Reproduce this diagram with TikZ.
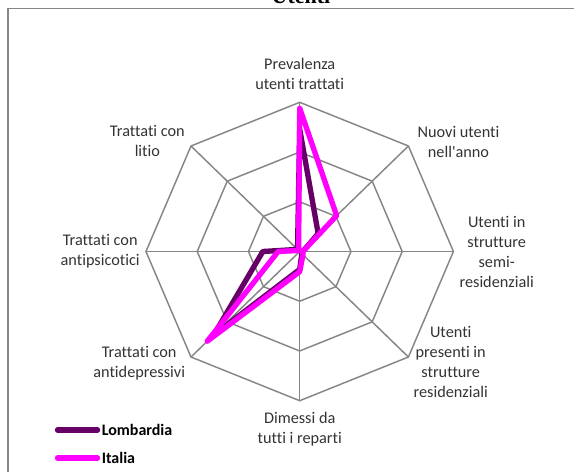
\documentclass[tikz,border=0pt]{standalone}
\usepackage{fontspec}
\setmainfont{Carlito}[Ligatures=NoCommon]
\newfontfamily\titlefont{Liberation Serif}
\usetikzlibrary{positioning,calc}
\definecolor{gridgray}{RGB}{134,134,134}
\definecolor{lombcolor}{RGB}{102,0,102}
\definecolor{italcolor}{RGB}{255,0,255}
\tikzset{
    grid_line/.style={
        draw=gridgray,
        line width=1.1pt
    },
    frame/.style={
        draw=gridgray,
        line width=1.2pt
    },
    series/.style={
        line width=4pt,
        line join=round,
        line cap=round
    },
    lombardia/.style={
        series,
        draw=lombcolor
    },
    italia/.style={
        series,
        draw=italcolor
    },
    axis_label/.style={
        inner sep=0pt,
        align=center,
        text=black!80,
        font=\fontsize{12.2pt}{15pt}\selectfont
    },
    key_text/.style={
        inner sep=0pt,
        font=\fontsize{12pt}{15pt}\selectfont\bfseries
    },
    chart_title/.style={
        inner sep=0pt,
        font=\titlefont\fontsize{16.5pt}{20pt}\selectfont\bfseries
    },
}

\begin{document}
\begin{tikzpicture}[x=0.75pt, y=-0.75pt, align=center]
    \useasboundingbox (0,0) rectangle (574,472);
    % frame and title
    \draw[frame] (8,472) -- (8,8.5) -- (574,8.5);
    \node[chart_title, anchor=base] (title) at (301,3) {Utenti};

    \begin{scope}[shift={(299.7,251.5)}, x=115.3pt, y=111.9pt]
    % axis ends
    \coordinate (prev)    at (90:1);
    \coordinate (nuovi)   at (45:1);
    \coordinate (semires) at (0:1);
    \coordinate (resid)   at (-45:1);
    \coordinate (dimessi) at (-90:1);
    \coordinate (antidep) at (-135:1);
    \coordinate (antipsi) at (180:1);
    \coordinate (litio)   at (135:1);

    % grid
    \draw[grid_line] (90:0.3333) -- (45:0.3333) -- (0:0.3333) -- (-45:0.3333) -- (-90:0.3333) -- (-135:0.3333) -- (180:0.3333) -- (135:0.3333) -- cycle;
    \draw[grid_line] (90:0.6667) -- (45:0.6667) -- (0:0.6667) -- (-45:0.6667) -- (-90:0.6667) -- (-135:0.6667) -- (180:0.6667) -- (135:0.6667) -- cycle;
    \draw[grid_line] (prev) -- (nuovi) -- (semires) -- (resid) -- (dimessi) -- (antidep) -- (antipsi) -- (litio) -- cycle;
    \draw[grid_line] (prev) -- (dimessi);
    \draw[grid_line] (nuovi) -- (antidep);
    \draw[grid_line] (semires) -- (antipsi);
    \draw[grid_line] (resid) -- (litio);

    % series
    \draw[lombardia] (90:0.82) -- (45:0.17) -- (0:0.02) -- (-45:0.02) -- (-90:0.12) -- (-135:0.79) -- (180:0.24) -- (135:0.02) -- cycle;
    \draw[italia] (90:0.96) -- (45:0.34) -- (0:0.02) -- (-45:0.03) -- (-90:0.135) -- (-135:0.85) -- (180:0.14) -- (135:0.01) -- cycle;
    \end{scope}

    % labels
    \node[axis_label, above=9.5pt of prev] (l_prev) {Prevalenza\\utenti trattati};
    \node[axis_label, right=6.7pt of nuovi, yshift=3pt] (l_nuovi) {Nuovi utenti\\nell\textquotesingle anno};
    \node[axis_label, right=4.4pt of semires] (l_semires) {Utenti in\\strutture\\semi-\\residenziali};
    \node[axis_label, right=3.7pt of resid, yshift=-3.4pt] (l_resid) {Utenti\\presenti in\\strutture\\residenziali};
    \node[axis_label, below=8.5pt of dimessi] (l_dimessi) {Dimessi da\\tutti i reparti};
    \node[axis_label, left=4.3pt of antidep, yshift=-4.5pt] (l_antidep) {Trattati con\\antidepressivi};
    \node[axis_label, left=4.5pt of antipsi] (l_antipsi) {Trattati con\\antipsicotici};
    \node[axis_label, left=4.5pt of litio, yshift=3.75pt] (l_litio) {Trattati con\\litio};

    % legend
    \coordinate (lombkey) at (57.5,430);
    \coordinate (lombkeyend) at (97.5,430);
    \coordinate (italkey) at (57.5,458);
    \coordinate (italkeyend) at (97.5,458);
    \draw[lombardia] (lombkey) -- (lombkeyend);
    \draw[italia] (italkey) -- (italkeyend);
    \node[key_text, right=3pt of lombkeyend] (lombtext) {Lombardia};
    \node[key_text, right=3pt of italkeyend] (italtext) {Italia};
\end{tikzpicture}
\end{document}
